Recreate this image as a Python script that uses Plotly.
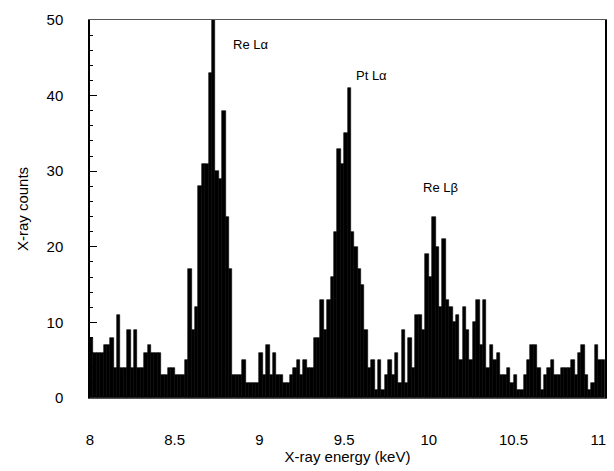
import plotly.graph_objects as go

# Histogram of X-ray counts, 0.02 keV bins starting at 8.00 keV
bin_start = 8.0
bin_width = 0.02
counts = [
    8, 6, 6, 6, 7, 7, 8, 4, 11, 4,
    4, 9, 4, 9, 4, 4, 6, 7, 6, 6,
    6, 3, 3, 4, 4, 3, 3, 3, 5, 17,
    9, 12, 28, 31, 31, 43, 55, 30, 29, 38,
    24, 17, 3, 3, 3, 5, 2, 2, 2, 2,
    6, 3, 7, 3, 6, 3, 3, 2, 2, 3,
    4, 5, 3, 5, 4, 4, 8, 8, 13, 9,
    13, 16, 22, 33, 31, 35, 41, 22, 20, 17,
    15, 9, 4, 5, 1, 5, 1, 3, 5, 3,
    6, 2, 9, 2, 8, 4, 11, 11, 9, 19,
    16, 24, 20, 12, 21, 13, 12, 10, 11, 5,
    12, 9, 5, 10, 13, 7, 13, 4, 7, 5,
    6, 3, 3, 4, 2, 3, 1, 1, 3, 5,
    7, 7, 4, 1, 3, 4, 5, 3, 3, 4,
    4, 4, 5, 3, 6, 7, 3, 1, 2, 7,
    5, 5,
]
energies = [bin_start + bin_width * (i + 0.5) for i in range(len(counts))]

x_ticks = [8, 8.5, 9, 9.5, 10, 10.5, 11]
x_tick_text = ["8", "8.5", "9", "9.5", "10", "10.5", "11"]
y_ticks = [0, 10, 20, 30, 40, 50]

peak_labels = ["Re Lα", "Pt Lα", "Re Lβ"]
peak_label_x = [8.945, 9.66, 10.07]
peak_label_y = [46.7, 42.7, 27.8]

font_family = "Liberation Sans, Arial, sans-serif"

fig = go.Figure()
fig.add_trace(go.Bar(
    x=energies, y=counts, width=bin_width,
    marker=dict(color="black", line=dict(color="black", width=0.6)),
    showlegend=False,
))

for t, xx, yy in zip(peak_labels, peak_label_x, peak_label_y):
    fig.add_annotation(x=xx, y=yy, text=t, showarrow=False,
                       font=dict(family=font_family, size=13, color="black"))

fig.update_layout(
    width=614, height=471,
    margin=dict(l=90, r=7, t=20, b=73),
    paper_bgcolor="white", plot_bgcolor="white",
    bargap=0,
    font=dict(family=font_family, size=15, color="black"),
    xaxis=dict(
        range=[8, 11.04], tickvals=x_ticks, ticktext=x_tick_text,
        ticks="", ticklabelstandoff=28, showgrid=False, zeroline=False,
        showline=True, linecolor="#555", linewidth=1, mirror=True,
        title=dict(text="X-ray energy (keV)", standoff=4,
                   font=dict(size=15)),
    ),
    yaxis=dict(
        range=[0, 50], tickvals=y_ticks, ticks="inside", ticklen=7,
        tickcolor="black", ticklabelstandoff=22,
        minor=dict(dtick=2, ticks="inside", ticklen=3, tickcolor="black"),
        showgrid=False, zeroline=False,
        showline=True, linecolor="black", linewidth=1.5, mirror=True,
        title=dict(text="X-ray counts", standoff=14, font=dict(size=15)),
    ),
)

fig.write_html("out.html")
